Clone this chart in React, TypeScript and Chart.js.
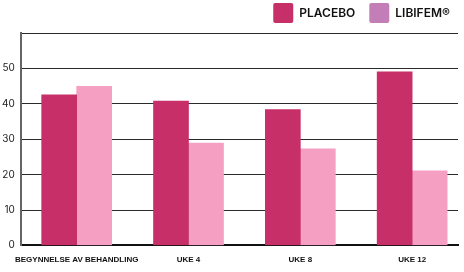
import React, { useEffect, useRef } from "react";
import { Chart, registerables } from "chart.js";

Chart.register(...registerables);

const categories = ["BEGYNNELSE AV BEHANDLING", "UKE 4", "UKE 8", "UKE 12"];
const placebo = [42.5, 40.8, 38.4, 49.0];
const libifem = [44.9, 28.9, 27.3, 21.1];
const seriesNames = ["PLACEBO", "LIBIFEM®"];
const yTicksMax = 60;

export default function App() {
  const ref = useRef<HTMLCanvasElement | null>(null);
  useEffect(() => {
    if (!ref.current) return;
    const legendColors = ["#C62F67", "#C47EB7"];
    const legendToEdge = {
      id: "legendToEdge",
      afterLayout(c: any) {
        if (c.legend) c.legend.right = c.width;
      },
    };
    const chart = new Chart(ref.current, {
      type: "bar",
      data: {
        datasets: [
          {
            label: seriesNames[0],
            data: placebo.map((v, i) => ({ x: i, y: v })),
            backgroundColor: "#C62F67",
            borderWidth: 0,
            barThickness: 35,
          },
          {
            label: seriesNames[1],
            data: libifem.map((v, i) => ({ x: i, y: v })),
            backgroundColor: "#F5A0C3",
            borderWidth: 0,
            barThickness: 35,
          },
        ],
      },
      plugins: [legendToEdge],
      options: {
        animation: false,
        responsive: true,
        maintainAspectRatio: false,
        layout: { padding: { top: -11, left: -4, right: 6, bottom: -2 } },
        plugins: {
          tooltip: { enabled: false },
          legend: {
            position: "top",
            align: "end",
            labels: {
              boxWidth: 20,
              boxHeight: 20,
              padding: 14,
              useBorderRadius: true,
              borderRadius: 2,
              color: "#111",
              font: { family: "Inter", size: 12, weight: "600" },
              generateLabels: (c: any) => {
                const items = Chart.defaults.plugins.legend.labels.generateLabels(c);
                items.forEach((it: any, i: number) => {
                  it.fillStyle = legendColors[i];
                  it.strokeStyle = legendColors[i];
                  it.lineWidth = 0;
                });
                return items;
              },
            },
          },
        },
        scales: {
          x: {
            type: "linear",
            offset: false,
            min: -0.5,
            max: 3.41,
            grid: { display: false, drawTicks: false, offset: false },
            border: { display: true, color: "#111", width: 2 },
            afterBuildTicks: (axis: any) => {
              axis.ticks = categories.map((_, i) => ({ value: i }));
            },
            ticks: {
              autoSkip: false,
              maxRotation: 0,
              minRotation: 0,
              padding: 9.5,
              color: "#111",
              font: { family: "Liberation Sans", size: 8, weight: "bold" },
              callback: (v: any) => categories[Math.round(Number(v))] ?? "",
            },
          },
          y: {
            min: 0,
            max: yTicksMax,
            grid: { color: "#2a2a2a", lineWidth: 1, drawTicks: false },
            border: { display: true, color: "#666", width: 2 },
            ticks: {
              stepSize: 10,
              padding: 6,
              color: "#222",
              font: { family: "Inter", size: 10 },
              callback: (v: any) => (Number(v) === yTicksMax ? "" : String(v)),
            },
          },
        },
      },
    });
    return () => chart.destroy();
  }, []);
  return (
    <div style={{ position: "absolute", left: 0, top: 0, width: 464, height: 272, background: "#fff" }}>
      <canvas ref={ref} />
    </div>
  );
}
